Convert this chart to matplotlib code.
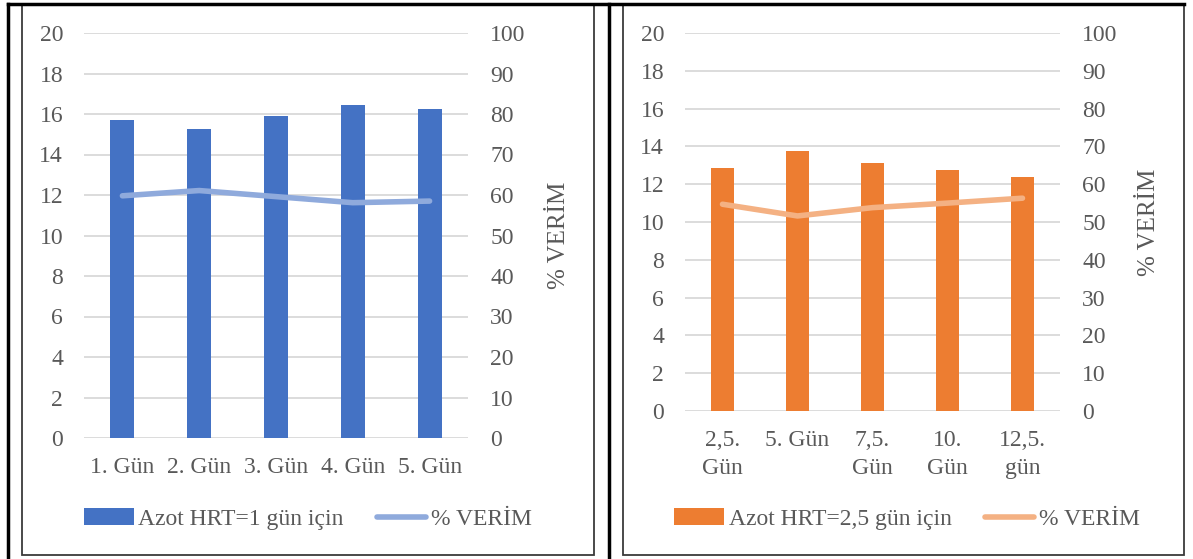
import matplotlib
matplotlib.use('Agg')
import matplotlib.pyplot as plt
from matplotlib.patches import Rectangle
from matplotlib.lines import Line2D

plt.rcParams['font.family'] = ['Liberation Serif', 'DejaVu Serif']

# ---------------- data ----------------
days_1 = ['1. Gün', '2. Gün', '3. Gün', '4. Gün', '5. Gün']
azot_1 = [15.72, 15.24, 15.88, 16.43, 16.27]
verim_1 = [59.8, 61.1, 59.6, 58.1, 58.5]

days_2 = ['2,5.\nGün', '5. Gün', '7,5.\nGün', '10.\nGün', '12,5.\ngün']
azot_2 = [12.88, 13.74, 13.14, 12.77, 12.40]
verim_2 = [54.7, 51.6, 53.8, 55.0, 56.3]

label_1 = 'Azot HRT=1 gün için'
label_2 = 'Azot HRT=2,5 gün için'
verim_label = '% VERİM'

text_col = '#595959'
grid_col = '#D9D9D9'
fs = 17

W, H = 1193, 559
fig = plt.figure(figsize=(W / 100, H / 100), dpi=100)


def fx(px):
    return px / W


def fy(py):
    return 1 - py / H


# table borders and chart frames
for (x0, y0, x1, y1) in [(22, 4, 594, 555), (623, 4, 1184, 555)]:
    fig.add_artist(Rectangle((fx(x0), fy(y1)), fx(x1) - fx(x0), fy(y0) - fy(y1),
                             transform=fig.transFigure, fill=False,
                             edgecolor='#3a3a3a', lw=1.3))
fig.add_artist(Line2D([fx(8), fx(8)], [fy(4), 0], transform=fig.transFigure, color='black', lw=2.5))
fig.add_artist(Line2D([fx(609), fx(609)], [fy(4), 0], transform=fig.transFigure, color='black', lw=2.5))
fig.add_artist(Line2D([fx(8), fx(1184)], [fy(4), fy(4)], transform=fig.transFigure, color='black', lw=2.5))


def make_panel(rect, cats, bars, line, bar_col, line_col, bar_label, legend_x):
    ax = fig.add_axes(rect)
    x = range(len(cats))
    ax.bar(x, bars, width=0.31, color=bar_col, zorder=3, label=bar_label)
    ax.set_xlim(-0.5, len(cats) - 0.5)
    ax.set_ylim(0, 20)
    ax.set_yticks(range(0, 21, 2))
    ax.grid(axis='y', color=grid_col, lw=1.3, zorder=0)
    ax.set_xticks(list(x))
    ax.set_xticklabels(cats, linespacing=1.4)
    for s in ax.spines.values():
        s.set_visible(False)
    ax.tick_params(axis='both', length=0, labelsize=fs, labelcolor=text_col)
    ax.tick_params(axis='y', pad=15)
    ax.tick_params(axis='x', pad=14)

    ax2 = ax.twinx()
    ax2.plot(x, line, color=line_col, lw=4, solid_capstyle='round', zorder=4, label=verim_label)
    ax2.set_ylim(0, 100)
    ax2.set_yticks(range(0, 101, 10))
    for s in ax2.spines.values():
        s.set_visible(False)
    ax2.tick_params(axis='y', length=0, labelsize=fs, labelcolor=text_col, pad=16)
    ax2.set_ylabel(verim_label, fontsize=fs + 1, color=text_col)
    ax2.yaxis.set_label_coords(1.208, 0.5)

    h1, l1 = ax.get_legend_handles_labels()
    h2, l2 = ax2.get_legend_handles_labels()
    fig.legend(h1 + h2, l1 + l2, loc='center', bbox_to_anchor=(legend_x, fy(519)),
               ncol=2, frameon=False, fontsize=fs, labelcolor=text_col,
               handlelength=2.1, handletextpad=0.2, columnspacing=1.4)
    return ax, ax2


make_panel([fx(84), fy(438), fx(468) - fx(84), fy(33) - fy(438)],
           days_1, azot_1, verim_1, '#4472C4', '#8FAADC', label_1, fx(308))
make_panel([fx(685), fy(411), fx(1060) - fx(685), fy(33) - fy(411)],
           days_2, azot_2, verim_2, '#ED7D31', '#F4B183', label_2, fx(907))

fig.savefig('out.png', dpi=100)
